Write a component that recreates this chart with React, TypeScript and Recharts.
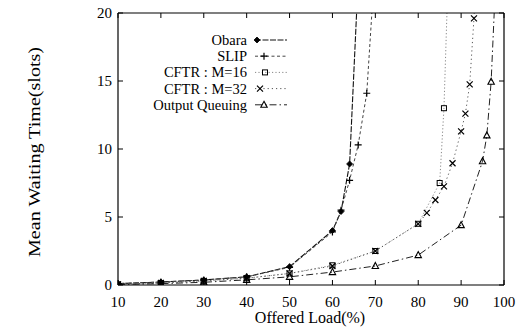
import React from 'react';
import { LineChart, Line, XAxis, YAxis, Legend } from 'recharts';

const xTicks = [10, 20, 30, 40, 50, 60, 70, 80, 90, 100];
const yTicks = [0, 5, 10, 15, 20];

const seriesNames = ['Obara', 'SLIP', 'CFTR : M=16', 'CFTR : M=32', 'Output Queuing'];

const obaraLoad = [10, 20, 30, 40, 50, 60, 62, 64, 66];
const obaraWait = [0.1, 0.22, 0.37, 0.6, 1.35, 4.0, 5.4, 8.9, 22.5];
const slipLoad = [10, 20, 30, 40, 50, 60, 62, 64, 66, 68, 70];
const slipWait = [0.1, 0.22, 0.37, 0.6, 1.3, 3.9, 5.5, 7.7, 10.3, 14.1, 24];
const cftr16Load = [10, 20, 30, 40, 50, 60, 70, 80, 85, 86, 87];
const cftr16Wait = [0.05, 0.15, 0.3, 0.5, 0.85, 1.45, 2.5, 4.5, 7.5, 13, 23];
const cftr32Load = [10, 20, 30, 40, 50, 60, 70, 80, 82, 84, 86, 88, 90, 91, 92, 93, 94];
const cftr32Wait = [0.05, 0.15, 0.3, 0.5, 0.85, 1.4, 2.5, 4.5, 5.3, 6.25, 7.25, 8.95, 11.3, 12.6, 14.75, 19.6, 27];
const oqLoad = [10, 20, 30, 40, 50, 60, 70, 80, 90, 95, 96, 97, 98];
const oqWait = [0.03, 0.1, 0.2, 0.38, 0.6, 0.95, 1.4, 2.2, 4.4, 9.1, 11.0, 14.95, 22];

const toData = (xs: number[], ys: number[]) => xs.map((x, i) => ({ x, y: ys[i] }));

const FONT = "'Liberation Serif', 'Times New Roman', serif";

type Shape = 'diamond' | 'plus' | 'square' | 'cross' | 'triangle';

const series = [
  { name: seriesNames[0], data: toData(obaraLoad, obaraWait), shape: 'diamond' as Shape, stroke: '#111', dash: '6 1.5', width: 1.1, legendMark: 257 },
  { name: seriesNames[1], data: toData(slipLoad, slipWait), shape: 'plus' as Shape, stroke: '#444', dash: '3 2.5', width: 1, legendMark: 264 },
  { name: seriesNames[2], data: toData(cftr16Load, cftr16Wait), shape: 'square' as Shape, stroke: '#888', dash: '1.2 2.2', width: 1, legendMark: 265 },
  { name: seriesNames[3], data: toData(cftr32Load, cftr32Wait), shape: 'cross' as Shape, stroke: '#555', dash: '1.2 3', width: 1, legendMark: 260 },
  { name: seriesNames[4], data: toData(oqLoad, oqWait), shape: 'triangle' as Shape, stroke: '#222', dash: '7 3 1.5 3', width: 1, legendMark: 264 },
];

const Marker = ({ shape, cx, cy, color }: { shape: Shape; cx: number; cy: number; color: string }) => {
  const r = 3;
  switch (shape) {
    case 'diamond':
      return <path d={`M${cx},${cy - r}L${cx + r},${cy}L${cx},${cy + r}L${cx - r},${cy}Z`} fill={color} stroke={color} strokeWidth={0.8} />;
    case 'plus':
      return <path d={`M${cx - 3.5},${cy}H${cx + 3.5}M${cx},${cy - 3.5}V${cy + 3.5}`} stroke={color} strokeWidth={1.2} fill="none" />;
    case 'square':
      return <rect x={cx - 2.5} y={cy - 2.5} width={5} height={5} fill="none" stroke={color} strokeWidth={1} />;
    case 'cross':
      return <path d={`M${cx - 3},${cy - 3}L${cx + 3},${cy + 3}M${cx - 3},${cy + 3}L${cx + 3},${cy - 3}`} stroke={color} strokeWidth={1.2} fill="none" />;
    case 'triangle':
    default:
      return <path d={`M${cx},${cy - 3.5}L${cx + 3.2},${cy + 2.5}L${cx - 3.2},${cy + 2.5}Z`} fill="none" stroke={color} strokeWidth={1.1} />;
  }
};

const TICK_LEN = 5;

const BottomTick = (props: any) => {
  const { x, y, payload } = props;
  return (
    <g>
      <line x1={x} y1={y} x2={x} y2={y - TICK_LEN} stroke="#000" strokeWidth={1} />
      <text x={x} y={y + 21.5} textAnchor="middle" fontSize={15} fontFamily={FONT} fill="#000">
        {payload.value}
      </text>
    </g>
  );
};

const TopTick = (props: any) => {
  const { x, y } = props;
  return <line x1={x} y1={y} x2={x} y2={y + TICK_LEN} stroke="#000" strokeWidth={1} />;
};

const LeftTick = (props: any) => {
  const { x, y, payload } = props;
  return (
    <g>
      <line x1={x} y1={y} x2={x + TICK_LEN} y2={y} stroke="#000" strokeWidth={1} />
      <text x={x - 6} y={y + 5} textAnchor="end" fontSize={15} fontFamily={FONT} fill="#000">
        {payload.value}
      </text>
    </g>
  );
};

const RightTick = (props: any) => {
  const { x, y } = props;
  return <line x1={x} y1={y} x2={x - TICK_LEN} y2={y} stroke="#000" strokeWidth={1} />;
};

const legendLeft = 100;
const legendTop = 25;
const legendCenters = [40, 56.2, 72.4, 88.6, 104.8];

const renderLegend = () => (
  <svg width={200} height={95} style={{ display: 'block', overflow: 'visible' }}>
    {series.map((s, i) => {
      const cy = legendCenters[i] - legendTop;
      return (
        <g key={s.name}>
          <text x={247 - legendLeft} y={cy + 5} textAnchor="end" fontSize={14.5} fontFamily={FONT} fill="#000">
            {s.name}
          </text>
          <line x1={255 - legendLeft} y1={cy} x2={287 - legendLeft} y2={cy} stroke={s.stroke} strokeWidth={s.width} strokeDasharray={s.dash} />
          <Marker shape={s.shape} cx={s.legendMark - legendLeft} cy={cy} color="#000" />
        </g>
      );
    })}
  </svg>
);

export default function App() {
  return (
    <div style={{ position: 'absolute', left: 0, top: 0, width: 525, height: 330, background: '#fff' }}>
      <LineChart width={525} height={330} margin={{ top: 0, right: 0, bottom: 0, left: 0 }}>
        <XAxis
          xAxisId="b"
          dataKey="x"
          type="number"
          orientation="bottom"
          domain={[10, 100]}
          ticks={xTicks}
          allowDataOverflow
          height={45}
          tickSize={0}
          tickMargin={0}
          tickLine={false}
          axisLine={{ stroke: '#000', strokeWidth: 1.2 }}
          tick={<BottomTick />}
          interval={0}
          label={{
            content: () => (
              <text x={310} y={323} textAnchor="middle" fontSize={16} fontFamily={FONT} fill="#000">
                Offered Load(%)
              </text>
            ),
          }}
        />
        <XAxis
          xAxisId="t"
          dataKey="x"
          type="number"
          orientation="top"
          domain={[10, 100]}
          ticks={xTicks}
          allowDataOverflow
          height={13}
          tickSize={0}
          tickMargin={0}
          tickLine={false}
          axisLine={{ stroke: '#000', strokeWidth: 1.2 }}
          tick={<TopTick />}
          interval={0}
        />
        <YAxis
          yAxisId="l"
          type="number"
          orientation="left"
          domain={[0, 20]}
          ticks={yTicks}
          allowDataOverflow
          width={118}
          tickSize={0}
          tickMargin={0}
          tickLine={false}
          axisLine={{ stroke: '#000', strokeWidth: 1.2 }}
          tick={<LeftTick />}
          interval={0}
          label={{
            content: () => (
              <text
                x={0}
                y={0}
                transform="translate(40,152) rotate(-90)"
                textAnchor="middle"
                fontSize={16}
                fontFamily={FONT}
                fill="#000"
                textLength={210}
                lengthAdjust="spacingAndGlyphs"
              >
                Mean Waiting Time(slots)
              </text>
            ),
          }}
        />
        <YAxis
          yAxisId="r"
          type="number"
          orientation="right"
          domain={[0, 20]}
          ticks={yTicks}
          allowDataOverflow
          width={21}
          tickSize={0}
          tickMargin={0}
          tickLine={false}
          axisLine={{ stroke: '#000', strokeWidth: 1.2 }}
          tick={<RightTick />}
          interval={0}
        />
        <Legend
          layout="vertical"
          align="center"
          verticalAlign="middle"
          content={renderLegend}
          wrapperStyle={{ left: legendLeft, top: legendTop, width: 200, height: 95 }}
        />
        {series.map((s) => (
          <Line
            key={s.name}
            xAxisId="b"
            yAxisId="l"
            data={s.data}
            dataKey="y"
            name={s.name}
            type="linear"
            stroke={s.stroke}
            strokeWidth={s.width}
            strokeDasharray={s.dash}
            isAnimationActive={false}
            dot={(p: any) => <Marker key={`${s.name}-${p.index}`} shape={s.shape} cx={p.cx} cy={p.cy} color="#000" />}
            activeDot={false}
          />
        ))}
      </LineChart>
    </div>
  );
}
